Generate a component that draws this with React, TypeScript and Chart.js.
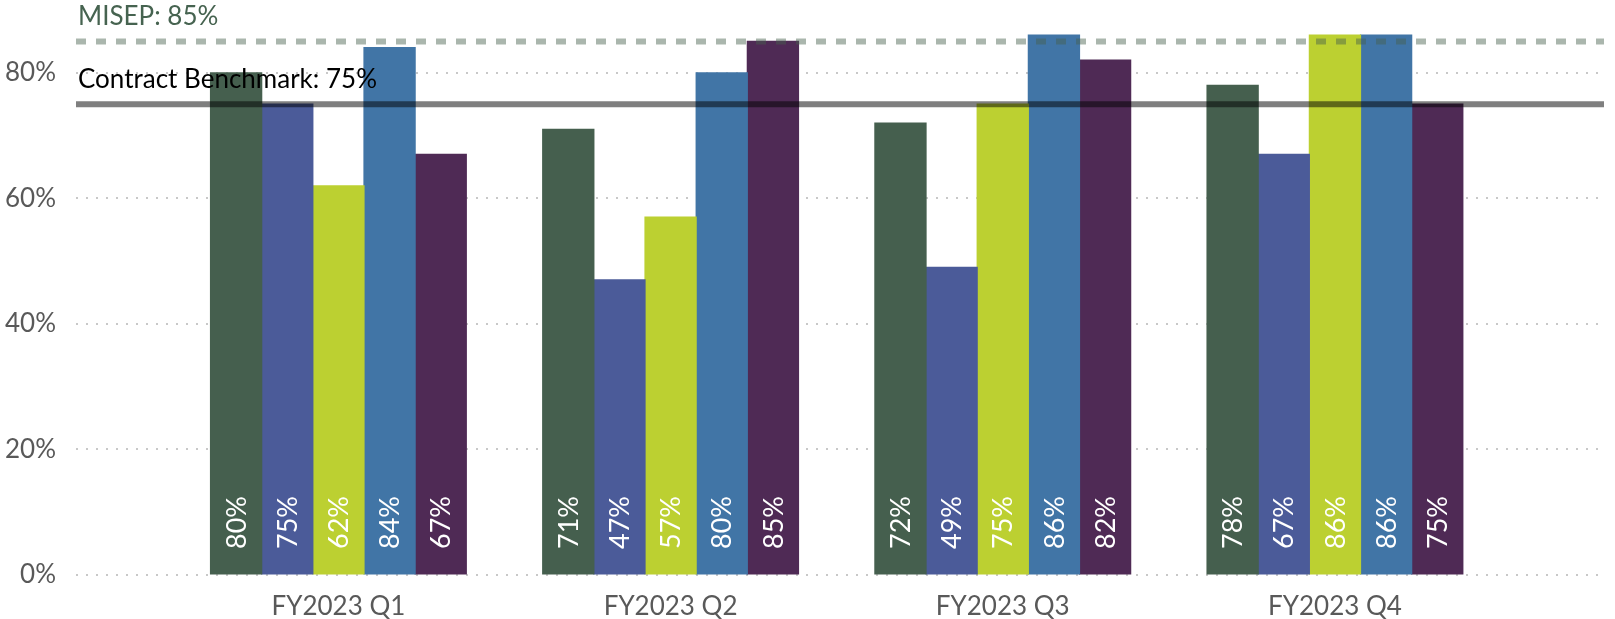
import React, { useEffect, useRef } from "react";
import { Chart, registerables } from "chart.js";

Chart.register(...registerables);

const categories = ["FY2023 Q1", "FY2023 Q2", "FY2023 Q3", "FY2023 Q4"];
const seriesNames = ["Series 1", "Series 2", "Series 3", "Series 4", "Series 5"];
const series1 = [0.8, 0.71, 0.72, 0.78];
const series2 = [0.75, 0.47, 0.49, 0.67];
const series3 = [0.62, 0.57, 0.75, 0.86];
const series4 = [0.84, 0.8, 0.86, 0.86];
const series5 = [0.67, 0.85, 0.82, 0.75];
const seriesValues = [series1, series2, series3, series4, series5];
const seriesColors = ["#455F4E", "#4B5B99", "#BCD031", "#4175A6", "#4F2A55"];
const yTickValues = [0, 0.2, 0.4, 0.6, 0.8];
const misepValue = 0.85;
const misepLabel = "MISEP: 85%";
const benchmarkValue = 0.75;
const benchmarkLabel = "Contract Benchmark: 75%";
const xMin = -0.79;
const xMax = 3.81;
const yMax = 0.9;

const FONT = "Lato, 'Open Sans', sans-serif";
const FONT_SIZE = 26;

const pct = (v: number) => `${Math.round(v * 100)}%`;

const labelsPlugin = {
  id: "customLabels",
  afterDatasetsDraw(chart: any) {
    const ctx = chart.ctx;
    chart.data.datasets.forEach((ds: any, i: number) => {
      if (ds.type !== "bar") return;
      const meta = chart.getDatasetMeta(i);
      meta.data.forEach((el: any, j: number) => {
        const { x, base } = el.getProps(["x", "base"], true);
        ctx.save();
        ctx.translate(x, base - 25);
        ctx.rotate(-Math.PI / 2);
        ctx.textAlign = "left";
        ctx.textBaseline = "middle";
        ctx.fillStyle = "#FFFFFF";
        ctx.font = `27px ${FONT}`;
        ctx.fillText(pct(ds.data[j].y), 0, 1);
        ctx.restore();
      });
    });
    const yScale = chart.scales.y;
    const left = chart.chartArea.left + 2;
    ctx.save();
    ctx.textAlign = "left";
    ctx.textBaseline = "alphabetic";
    ctx.font = `${FONT_SIZE}px ${FONT}`;
    ctx.fillStyle = "#466350";
    ctx.fillText(misepLabel, left, yScale.getPixelForValue(misepValue) - 16.5);
    ctx.fillStyle = "#000000";
    ctx.fillText(benchmarkLabel, left, yScale.getPixelForValue(benchmarkValue) - 16.5);
    ctx.restore();
  },
};

const zeroPad = (scale: any) => {
  scale.paddingTop = 0;
  scale.paddingBottom = 0;
  scale.paddingLeft = 0;
  scale.paddingRight = 0;
};

export default function App() {
  const canvasRef = useRef<HTMLCanvasElement | null>(null);

  useEffect(() => {
    if (!canvasRef.current) return;
    const barSets = seriesValues.map((vals, i) => ({
      type: "bar" as const,
      label: seriesNames[i],
      data: vals.map((v, j) => ({ x: j, y: v })),
      backgroundColor: seriesColors[i],
      borderWidth: 0,
      inflateAmount: 0.6,
      barPercentage: 1,
      categoryPercentage: 0.77,
      order: 2,
    }));
    const chart = new Chart(canvasRef.current, {
      type: "bar",
      data: {
        datasets: [
          ...barSets,
          {
            type: "line" as const,
            label: "MISEP",
            data: [
              { x: xMin, y: misepValue },
              { x: xMax, y: misepValue },
            ],
            borderColor: "rgba(69,95,77,0.46)",
            borderWidth: 6,
            borderDash: [10, 10],
            pointRadius: 0,
            order: 0,
          },
          {
            type: "line" as const,
            label: "Contract Benchmark",
            data: [
              { x: xMin, y: benchmarkValue },
              { x: xMax, y: benchmarkValue },
            ],
            borderColor: "rgba(0,0,0,0.5)",
            borderWidth: 6,
            borderCapStyle: "round",
            pointRadius: 0,
            order: 0,
          },
        ] as any,
      },
      options: {
        responsive: false,
        devicePixelRatio: 1,
        animation: false,
        layout: { padding: { top: 10, right: 11, left: 0, bottom: 0 } },
        plugins: { legend: { display: false }, tooltip: { enabled: false } },
        scales: {
          x: {
            type: "linear",
            min: xMin,
            max: xMax,
            offset: false,
            grid: { display: false, offset: false },
            border: { display: false },
            afterBuildTicks: (scale: any) => {
              scale.ticks = categories.map((_, i) => ({ value: i }));
            },
            afterFit: (scale: any) => {
              scale.height = 44;
              zeroPad(scale);
            },
            ticks: {
              autoSkip: false,
              maxRotation: 0,
              padding: 8,
              color: "#595959",
              font: { family: FONT, size: FONT_SIZE },
              callback: (v: any) => categories[Math.round(Number(v))] ?? "",
            },
          },
          y: {
            min: 0,
            max: yMax,
            afterBuildTicks: (scale: any) => {
              scale.ticks = yTickValues.map((v) => ({ value: v }));
            },
            afterFit: (scale: any) => {
              scale.width = 76;
              zeroPad(scale);
            },
            grid: {
              color: "#C8C8C8",
              lineWidth: 2,
              drawTicks: false,
              borderDash: [2, 8],
            } as any,
            border: { display: false, dash: [2, 8] },
            ticks: {
              padding: 20,
              color: "#595959",
              font: { family: FONT, size: FONT_SIZE },
              callback: (v: any) => pct(Number(v)),
            },
          },
        },
      },
      plugins: [labelsPlugin],
    } as any);
    return () => chart.destroy();
  }, []);

  return (
    <div style={{ position: "fixed", left: 0, top: 0, width: 1615, height: 619, background: "#fff" }}>
      <canvas ref={canvasRef} width={1615} height={619} style={{ display: "block" }} />
    </div>
  );
}
